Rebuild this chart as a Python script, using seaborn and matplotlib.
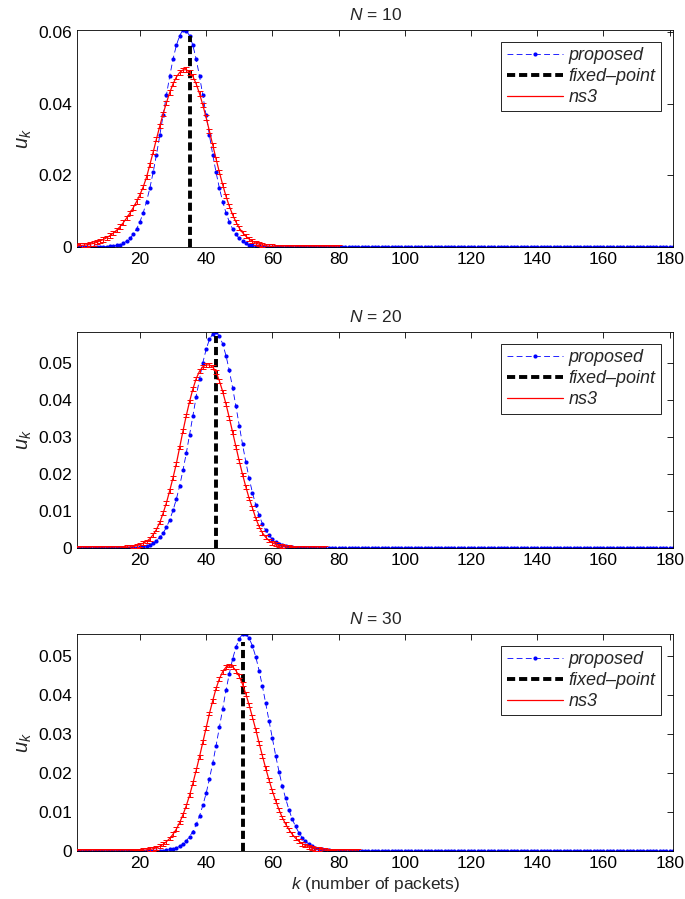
"""
Distribucion u_k del numero de paquetes para N = 10, 20, 30:
modelo propuesto, punto fijo y simulacion ns3.
"""

import matplotlib

matplotlib.use("Agg")
import matplotlib.pyplot as plt
import numpy as np
import seaborn as sns
from matplotlib.lines import Line2D
from matplotlib.ticker import FuncFormatter

# eje k = 1..181
K = np.arange(1, 182)
N_VALUES = [10, 20, 30]

# modelo propuesto, desde k = 1 (el resto de la cola es 0)
PROPOSED_10 = [
    0.0, 0.0, 0.0, 0.0, 0.0, 0.0, 0.00001,
    0.00003, 0.00005, 0.00009, 0.00015, 0.00026, 0.00042, 0.00067, 0.00106, 0.00162,
    0.00242, 0.00353, 0.00504, 0.00702,
    0.00955, 0.01269, 0.01647, 0.02086, 0.02581, 0.03120, 0.03682, 0.04243, 0.04777, 0.05251,
    0.05637, 0.05910, 0.06070, 0.06050, 0.05910, 0.05637, 0.05251, 0.04777, 0.04243, 0.03682,
    0.03120, 0.02581, 0.02086, 0.01647, 0.01269, 0.00955, 0.00702, 0.00504, 0.00353, 0.00242,
    0.00162, 0.00106, 0.00067, 0.00042, 0.00026, 0.00015, 0.00009, 0.00005, 0.00003, 0.00001,
]
PROPOSED_20 = [
    0.0, 0.0, 0.0, 0.0, 0.0, 0.0, 0.0, 0.0, 0.0, 0.0, 0.0, 0.0, 0.0, 0.0, 0.0, 0.0, 0.0,
    0.0001, 0.0001, 0.0002, 0.0004, 0.0006, 0.0009, 0.0013, 0.0020, 0.0029, 0.0040,
    0.0056, 0.0076, 0.0102, 0.0132, 0.0168, 0.0210, 0.0256, 0.0306, 0.0357, 0.0409,
    0.0457, 0.0501, 0.0537, 0.0564, 0.0579, 0.0584, 0.0573, 0.0552, 0.0520, 0.0480,
    0.0433, 0.0383, 0.0331, 0.0280, 0.0232, 0.0188, 0.0149, 0.0116, 0.0088, 0.0066,
    0.0048, 0.0034, 0.0024, 0.0016, 0.0011, 0.0007, 0.0005, 0.0003, 0.0002, 0.0001,
    0.0001, 0.0, 0.0,
]
PROPOSED_30 = [
    0.0, 0.0, 0.0, 0.0, 0.0, 0.0, 0.0, 0.0, 0.0, 0.0, 0.0, 0.0, 0.0, 0.0, 0.0, 0.0,
    0.0, 0.0, 0.0, 0.0, 0.0, 0.0, 0.0, 0.0, 0.0,
    0.0001, 0.0001, 0.0002, 0.0004, 0.0005, 0.0008, 0.0012, 0.0018, 0.0026, 0.0037,
    0.0050, 0.0068, 0.0090, 0.0117, 0.0148, 0.0185, 0.0226, 0.0270, 0.0317, 0.0365,
    0.0412, 0.0455, 0.0493, 0.0523, 0.0545, 0.0556, 0.0557, 0.0546, 0.0526, 0.0498,
    0.0463, 0.0423, 0.0379, 0.0334, 0.0289, 0.0245, 0.0204, 0.0167, 0.0135, 0.0106,
    0.0082, 0.0063, 0.0047, 0.0034, 0.0025, 0.0018, 0.0012, 0.0008, 0.0006, 0.0004,
    0.0002, 0.0002, 0.0001, 0.0001, 0.0,
]

# simulacion ns3, desde k = 1; la serie termina en NS3_LAST_K
NS3_10 = [
    0.0003, 0.0004, 0.0005, 0.0006, 0.0008, 0.0010, 0.0013, 0.0017, 0.0021, 0.0026,
    0.0032, 0.0039, 0.0047, 0.0057, 0.0068, 0.0081, 0.0095, 0.0110, 0.0127, 0.0146,
    0.0168, 0.0195, 0.0230, 0.0265, 0.0302, 0.0338, 0.0372, 0.0403, 0.0432, 0.0456,
    0.0475, 0.0488, 0.0495, 0.0496, 0.0488, 0.0477, 0.0456, 0.0429, 0.0397, 0.0362,
    0.0324, 0.0285, 0.0246, 0.0209, 0.0174, 0.0142, 0.0114, 0.0090, 0.0070, 0.0053,
    0.0040, 0.0030, 0.0022, 0.0016, 0.0011, 0.0008, 0.0005, 0.0003, 0.0002, 0.0001,
]
NS3_20 = [
    0.0, 0.0, 0.0, 0.0, 0.0, 0.0, 0.0, 0.0, 0.0, 0.0, 0.0, 0.0, 0.0, 0.0,
    0.0001, 0.0002, 0.0003, 0.0004, 0.0006, 0.0009, 0.0013, 0.0018, 0.0025, 0.0036,
    0.0050, 0.0069, 0.0094, 0.0122, 0.0155, 0.0190, 0.0228, 0.0272, 0.0316, 0.0358,
    0.0396, 0.0430, 0.0458, 0.0478, 0.0490, 0.0495, 0.0495, 0.0489, 0.0476, 0.0452,
    0.0423, 0.0389, 0.0352, 0.0313, 0.0274, 0.0235, 0.0199, 0.0165, 0.0134, 0.0108,
    0.0080, 0.0058, 0.0041, 0.0029, 0.0020, 0.0014, 0.0010, 0.0007, 0.0005, 0.0003,
    0.0002, 0.0001, 0.0001,
]
NS3_30 = [
    0.0, 0.0, 0.0, 0.0, 0.0, 0.0, 0.0, 0.0, 0.0, 0.0, 0.0, 0.0, 0.0, 0.0, 0.0, 0.0, 0.0,
    0.0001, 0.0001, 0.0001, 0.0002, 0.0003, 0.0004, 0.0006, 0.0008, 0.0012, 0.0017,
    0.0024, 0.0032, 0.0043, 0.0056, 0.0073, 0.0093, 0.0116, 0.0143, 0.0174, 0.0207,
    0.0242, 0.0279, 0.0316, 0.0353, 0.0386, 0.0417, 0.0442, 0.0460, 0.0472, 0.0476,
    0.0473, 0.0463, 0.0448, 0.0428, 0.0403, 0.0374, 0.0343, 0.0311, 0.0277, 0.0244,
    0.0212, 0.0182, 0.0154, 0.0129, 0.0106, 0.0086, 0.0069, 0.0055, 0.0043, 0.0033,
    0.0025, 0.0019, 0.0014, 0.0010, 0.0007, 0.0005, 0.0004, 0.0003, 0.0002, 0.0001,
    0.0001, 0.0001, 0.0,
]
NS3_LAST_K = [80, 76, 86]
NS3_ERR = [0.0006, 0.0005, 0.0005]

# punto fijo: posicion y altura de la linea vertical
FIXED_K = [35, 43, 51]
FIXED_TOP = [0.0591, 0.0574, 0.0536]

X_TICKS = [20, 40, 60, 80, 100, 120, 140, 160, 180]
Y_STEP = [0.02, 0.01, 0.01]
LABELS = ["proposed", "fixed\u2013point", "ns3"]

PROPOSED = [PROPOSED_10, PROPOSED_20, PROPOSED_30]
NS3 = [NS3_10, NS3_20, NS3_30]

sns.set_style("white")
plt.rcParams["font.family"] = ["Liberation Sans", "DejaVu Sans"]
plt.rcParams["mathtext.fontset"] = "custom"
plt.rcParams["mathtext.rm"] = "Liberation Sans"
plt.rcParams["mathtext.it"] = "Liberation Sans:italic"

FS = 12.5
BLUE_DASH = (0, (7, 4))
BLACK_DASH = (0, (2.1, 1.0))

fig = plt.figure(figsize=(6.85, 8.99), dpi=100)
positions = [
    [0.1124, 0.7253, 0.8701, 0.2414],
    [0.1124, 0.3904, 0.8701, 0.2403],
    [0.1124, 0.0534, 0.8701, 0.2414],
]

for i, n in enumerate(N_VALUES):
    ax = fig.add_axes(positions[i])
    prop = np.pad(np.array(PROPOSED[i]), (0, len(K) - len(PROPOSED[i])))
    ns3 = np.pad(np.array(NS3[i]), (0, NS3_LAST_K[i] - len(NS3[i])))
    k_ns3 = K[: NS3_LAST_K[i]]

    sns.lineplot(x=K, y=prop, ax=ax, color="blue", linestyle=BLUE_DASH, lw=0.6,
                 marker="o", markersize=3, markeredgewidth=0, errorbar=None, legend=False)
    ax.vlines(FIXED_K[i], 0, FIXED_TOP[i], colors="black", linewidth=2.8,
              linestyles=BLACK_DASH, zorder=3)
    sns.lineplot(x=k_ns3, y=ns3, ax=ax, color="red", lw=0.9, errorbar=None,
                 legend=False, zorder=4)
    ax.errorbar(k_ns3, ns3, yerr=NS3_ERR[i], fmt="none", ecolor="red",
                elinewidth=0.7, capsize=2, capthick=0.7, zorder=4)

    top = max(prop)
    ax.set_xlim(1, 181)
    ax.set_ylim(0, top)
    ax.set_xticks(X_TICKS)
    ax.set_yticks(np.arange(0, top + 1e-9, Y_STEP[i]))
    ax.yaxis.set_major_formatter(FuncFormatter(lambda v, _: "0" if abs(v) < 1e-12 else f"{v:g}"))
    ax.tick_params(direction="in", top=True, right=True, length=4, width=0.6,
                   labelsize=FS, colors="black")
    for spine in ax.spines.values():
        spine.set_color("black")
        spine.set_linewidth(0.6)

    ax.set_title(rf"$N$ = {n}", fontsize=FS, pad=7)
    ax.set_ylabel(r"$u_k$", fontsize=FS + 2, labelpad=3)
    if i == len(N_VALUES) - 1:
        ax.set_xlabel(r"$k$ (number of packets)", fontsize=FS, labelpad=3)
    else:
        ax.set_xlabel("")

    handles = [
        Line2D([], [], color="blue", lw=0.6, linestyle=BLUE_DASH, marker="o",
               markersize=3, markeredgewidth=0),
        Line2D([], [], color="black", lw=2.8, linestyle=BLACK_DASH),
        Line2D([], [], color="red", lw=0.9),
    ]
    leg = ax.legend(handles, LABELS, loc="upper right", prop={"style": "italic", "size": FS + 0.5},
                    frameon=True, fancybox=False, edgecolor="black", framealpha=1,
                    handlelength=3.1, handletextpad=0.35, borderpad=0.3,
                    labelspacing=0.22, borderaxespad=0.65)
    leg.get_frame().set_linewidth(0.6)
    leg.set_zorder(10)

plt.savefig("out.png", dpi=100)
